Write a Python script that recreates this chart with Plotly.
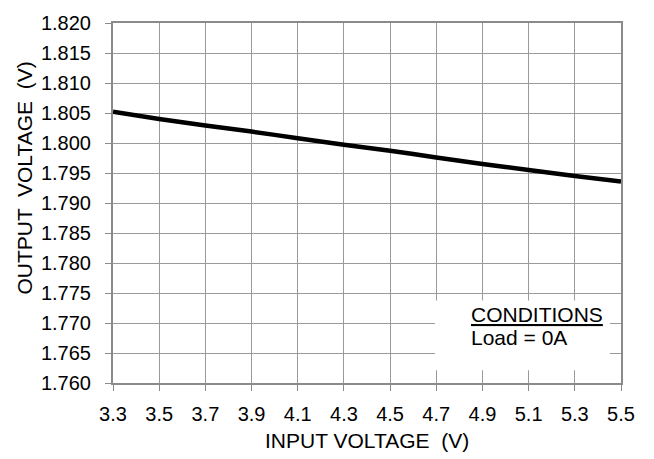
import plotly.graph_objects as go

# Data
input_voltage = [3.3, 3.5, 3.7, 3.9, 4.1, 4.3, 4.5, 4.7, 4.9, 5.1, 5.3, 5.5]
output_voltage = [1.8052, 1.8040, 1.8029, 1.8019, 1.8008, 1.7997, 1.7987, 1.7976, 1.7965, 1.7955, 1.7945, 1.7936]

x_ticks = [3.3, 3.5, 3.7, 3.9, 4.1, 4.3, 4.5, 4.7, 4.9, 5.1, 5.3, 5.5]
x_tick_labels = ["3.3", "3.5", "3.7", "3.9", "4.1", "4.3", "4.5", "4.7", "4.9", "5.1", "5.3", "5.5"]
y_ticks = [1.760, 1.765, 1.770, 1.775, 1.780, 1.785, 1.790, 1.795, 1.800, 1.805, 1.810, 1.815, 1.820]
y_tick_labels = ["%.3f" % v for v in y_ticks]

FONT = "Liberation Sans, Arial, sans-serif"
GRID = "#9a9a9a"
AXIS = "#8a8a8a"

fig = go.Figure()
fig.add_trace(go.Scatter(
    x=input_voltage, y=output_voltage, mode="lines",
    line=dict(color="black", width=4.5, shape="spline", smoothing=0.4),
    showlegend=False, hoverinfo="skip",
))

fig.update_layout(
    width=654, height=459,
    margin=dict(l=113, r=33, t=15, b=76),
    paper_bgcolor="white", plot_bgcolor="white",
    font=dict(family=FONT, size=20, color="black"),
    showlegend=False,
)

fig.update_xaxes(
    range=[3.3, 5.5], tickvals=x_ticks, ticktext=x_tick_labels,
    showgrid=True, gridcolor=GRID, gridwidth=1,
    showline=True, linecolor=AXIS, linewidth=2, mirror=True,
    ticks="outside", ticklen=6, tickcolor=AXIS, tickwidth=1,
    tickfont=dict(family=FONT, size=20, color="black"),
    zeroline=False, ticklabelstandoff=6,
)
fig.update_yaxes(
    range=[1.760, 1.820], tickvals=y_ticks, ticktext=y_tick_labels,
    showgrid=True, gridcolor=GRID, gridwidth=1,
    showline=True, linecolor=AXIS, linewidth=2, mirror=True,
    ticks="outside", ticklen=6, tickcolor=AXIS, tickwidth=1,
    tickfont=dict(family=FONT, size=20, color="black"),
    zeroline=False, ticklabelstandoff=10,
)

# White box for the conditions note
fig.add_shape(type="rect", xref="x", yref="y",
              x0=4.6945, x1=5.452, y0=1.76213, y1=1.77377,
              fillcolor="white", line=dict(width=0), layer="above")

fig.add_annotation(xref="x", yref="y", x=4.84, y=1.7715, xanchor="left", yanchor="middle",
                   text="<u>CONDITIONS</u>", showarrow=False,
                   font=dict(family=FONT, size=21, color="black"))
fig.add_annotation(xref="x", yref="y", x=4.84, y=1.7676, xanchor="left", yanchor="middle",
                   text="Load = 0A", showarrow=False,
                   font=dict(family=FONT, size=21, color="black"))

# Axis titles
fig.add_annotation(xref="paper", yref="paper", x=0.5, y=-0.160, xanchor="center", yanchor="middle",
                   text="INPUT VOLTAGE  (V)", showarrow=False,
                   font=dict(family=FONT, size=21, color="black"))
fig.add_annotation(xref="paper", yref="paper", x=-0.175, y=0.568, xanchor="center", yanchor="middle",
                   text="OUTPUT  VOLTAGE  (V)", showarrow=False, textangle=-90,
                   font=dict(family=FONT, size=21, color="black"))

fig.write_html("out.html")
